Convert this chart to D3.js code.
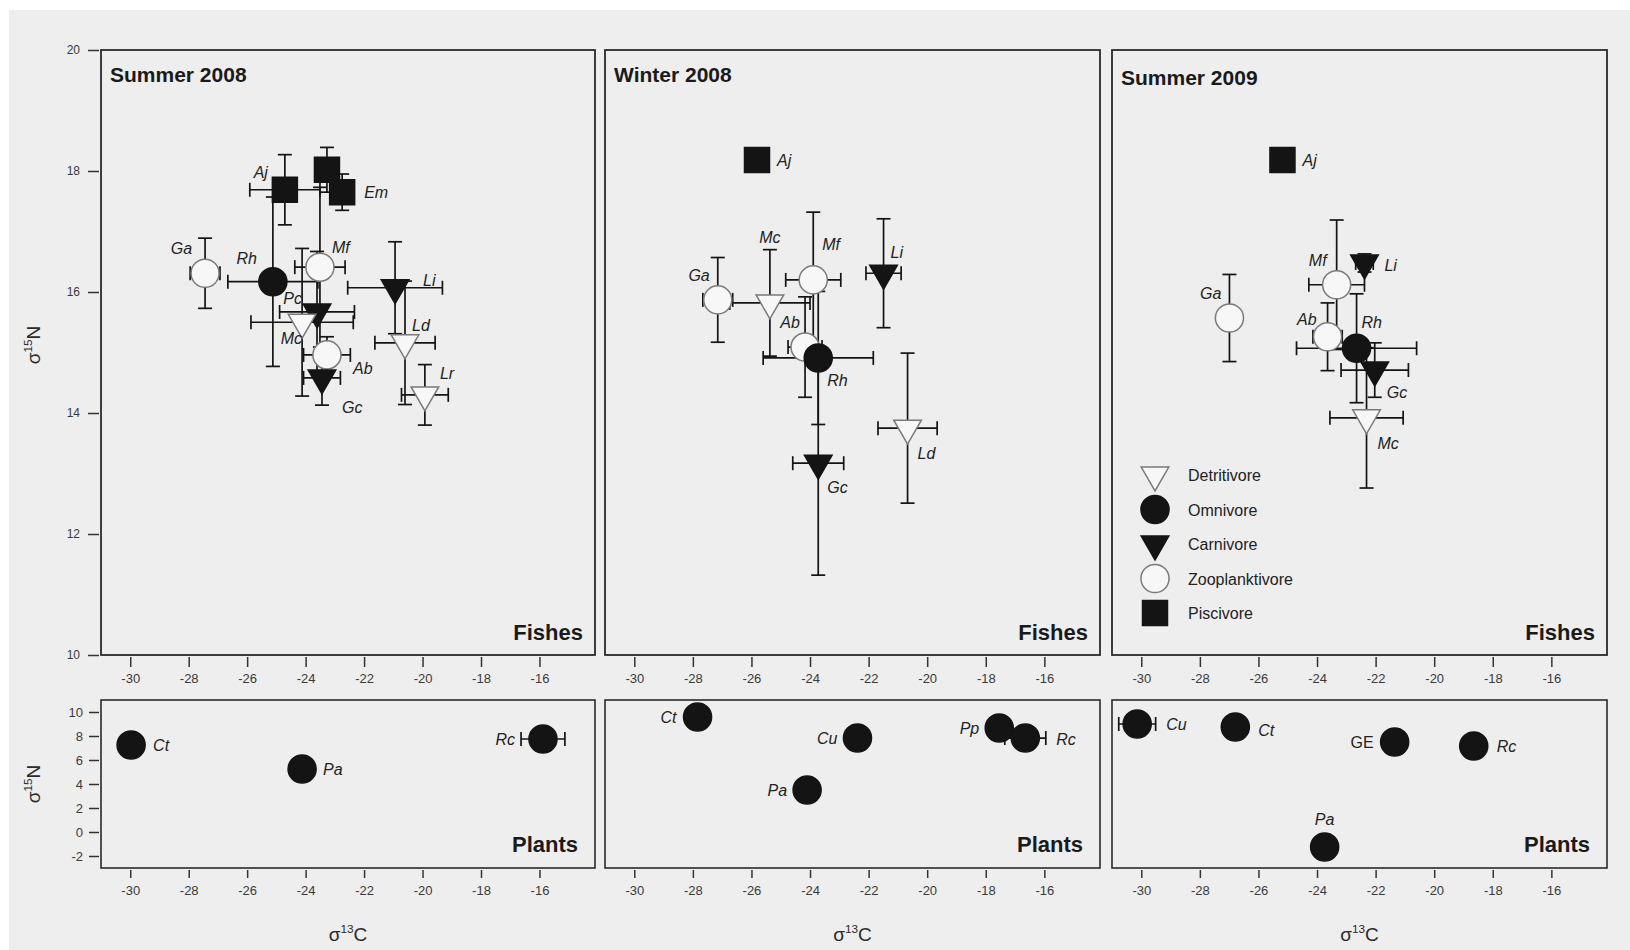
<!DOCTYPE html>
<html>
<head>
<meta charset="utf-8">
<script src="https://cdn.jsdelivr.net/npm/d3@7"></script>
<style>
  html, body { margin: 0; padding: 0; background: #ffffff; }
  svg { display: block; }
  text { font-family: "Liberation Sans", Arial, Helvetica, sans-serif; }
</style>
</head>
<body>
<svg id="chart" width="1630" height="950"></svg>
<script>
// ---- Data -------------------------------------------------------------
const seasons = ["Summer 2008", "Winter 2008", "Summer 2009"];

const guildKeys  = ["D", "O", "C", "Z", "P"];
const guildNames = ["Detritivore", "Omnivore", "Carnivore", "Zooplanktivore", "Piscivore"];

const xTicks      = [-30, -28, -26, -24, -22, -20, -18, -16];
const fishYTicks  = [10, 12, 14, 16, 18, 20];
const plantYTicks = [-2, 0, 2, 4, 6, 8, 10];

// Fishes, summer 2008 (mean ± SD)
const fishS08Species = ["Aj", "", "Em", "Ga", "Rh", "Mf", "Pc", "Mc", "Ab", "Gc", "Li", "Ld", "Lr"];
const fishS08Guild   = ["P", "P", "P", "Z", "O", "Z", "C", "D", "Z", "C", "C", "D", "D"];
const fishS08C       = [-24.71, -23.27, -22.75, -27.44, -25.12, -23.51, -23.61, -24.12, -23.27, -23.44, -20.94, -20.60, -19.92];
const fishS08N       = [17.69, 18.02, 17.65, 16.31, 16.17, 16.41, 15.67, 15.50, 14.96, 14.58, 16.07, 15.16, 14.30];
const fishS08CErr    = [1.20, 0.25, 0.40, 0.51, 1.54, 0.86, 1.28, 1.75, 0.80, 0.63, 1.62, 1.03, 0.80];
const fishS08NErr    = [0.58, 0.37, 0.30, 0.58, 1.40, 1.32, 1.00, 1.22, 0.30, 0.45, 0.76, 1.02, 0.50];

// Fishes, winter 2008
const fishW08Species = ["Aj", "Ga", "Mc", "Mf", "Li", "Ab", "Rh", "Gc", "Ld"];
const fishW08Guild   = ["P", "Z", "D", "Z", "C", "Z", "O", "C", "D"];
const fishW08C       = [-25.81, -27.15, -25.37, -23.89, -21.49, -24.17, -23.72, -23.72, -20.67];
const fishW08N       = [18.18, 15.87, 15.82, 16.20, 16.31, 15.09, 14.91, 13.17, 13.75];
const fishW08CErr    = [0, 0.51, 1.37, 0.94, 0.60, 0.58, 1.88, 0.87, 1.01];
const fishW08NErr    = [0, 0.70, 0.88, 1.12, 0.90, 0.83, 1.10, 1.85, 1.24];

// Fishes, summer 2009
const fishS09Species = ["Aj", "Ga", "Mf", "Li", "Ab", "Rh", "Gc", "Mc"];
const fishS09Guild   = ["P", "Z", "Z", "C", "Z", "O", "C", "D"];
const fishS09C       = [-25.18, -26.99, -23.33, -22.38, -23.64, -22.65, -22.03, -22.31];
const fishS09N       = [18.18, 15.57, 16.12, 16.48, 15.26, 15.07, 14.71, 13.92];
const fishS09CErr    = [0, 0, 0.95, 0.30, 0.50, 2.05, 1.15, 1.25];
const fishS09NErr    = [0, 0.72, 1.07, 0.15, 0.56, 0.90, 0.45, 1.16];

// Plants
const plantS08Species = ["Ct", "Pa", "Rc"];
const plantS08C       = [-29.97, -24.12, -15.88];
const plantS08N       = [7.25, 5.25, 7.75];
const plantS08CErr    = [0, 0, 0.75];

const plantW08Species = ["Ct", "Cu", "Pa", "Pp", "Rc"];
const plantW08C       = [-27.84, -22.38, -24.10, -17.54, -16.65];
const plantW08N       = [9.58, 7.83, 3.50, 8.67, 7.83];
const plantW08CErr    = [0, 0, 0, 0, 0.70];

const plantS09Species = ["Cu", "Ct", "GE", "Rc", "Pa"];
const plantS09C       = [-30.14, -26.79, -21.35, -18.65, -23.74];
const plantS09N       = [9.00, 8.75, 7.50, 7.17, -1.25];
const plantS09CErr    = [0.63, 0, 0, 0, 0];

// ---- Assemble rows ------------------------------------------------------
function fishRows(sp, gu, c, n, ce, ne) {
  return sp.map((s, i) => ({ name: s, guild: gu[i], c: c[i], n: n[i], ce: ce[i], ne: ne[i] }));
}
function plantRows(sp, c, n, ce) {
  return sp.map((s, i) => ({ name: s, guild: "O", c: c[i], n: n[i], ce: ce[i], ne: 0 }));
}

const fishSets = [
  fishRows(fishS08Species, fishS08Guild, fishS08C, fishS08N, fishS08CErr, fishS08NErr),
  fishRows(fishW08Species, fishW08Guild, fishW08C, fishW08N, fishW08CErr, fishW08NErr),
  fishRows(fishS09Species, fishS09Guild, fishS09C, fishS09N, fishS09CErr, fishS09NErr)
];
const plantSets = [
  plantRows(plantS08Species, plantS08C, plantS08N, plantS08CErr),
  plantRows(plantW08Species, plantW08C, plantW08N, plantW08CErr),
  plantRows(plantS09Species, plantS09C, plantS09N, plantS09CErr)
];

// ---- Layout -------------------------------------------------------------
const panelX = [[101, 595], [605, 1100], [1112, 1607]];
const fishY  = [50, 655];
const plantY = [700, 868];
const titleBaseline = [82, 82, 85];

// Label placement [dx, dy, anchor] relative to each marker
const fishLabelSpots = [
  { Aj: [-17, -12, "end"], Em: [22, 6, "start"], Ga: [-13, -19, "end"], Rh: [-16, -18, "end"],
    Mf: [12, -14, "start"], Pc: [-15, -8, "end"], Mc: [0, 22, "end"], Ab: [26, 19, "start"],
    Gc: [20, 35, "start"], Li: [28, -2, "start"], Ld: [7, -12, "start"], Lr: [15, -16, "start"] },
  { Aj: [20, 6, "start"], Ga: [-8, -19, "end"], Mc: [0, -60, "middle"], Mf: [9, -30, "start"],
    Li: [7, -15, "start"], Ab: [-15, -19, "middle"], Rh: [9, 28, "start"], Gc: [9, 30, "start"],
    Ld: [10, 31, "start"] },
  { Aj: [20, 6, "start"], Ga: [-8, -19, "end"], Mf: [-10, -19, "end"], Li: [20, 8, "start"],
    Ab: [-11, -12, "end"], Rh: [5, -20, "start"], Gc: [12, 28, "start"], Mc: [11, 31, "start"] }
];
const plantLabelSpots = [
  { Ct: [22, 6, "start"], Pa: [21, 6, "start"], Rc: [-28, 6, "end"] },
  { Ct: [-21, 6, "end"], Cu: [-20, 6, "end"], Pa: [-20, 6, "end"], Pp: [-20, 6, "end"], Rc: [31, 7, "start"] },
  { Cu: [29, 6, "start"], Ct: [23, 9, "start"], GE: [-21, 6, "end"], Rc: [23, 6, "start"], Pa: [0, -22, "middle"] }
];

const svg = d3.select("#chart");

// paper background
svg.append("rect").attr("x", 0).attr("y", 0).attr("width", 1630).attr("height", 950).attr("fill", "#ffffff");
svg.append("rect").attr("x", 9).attr("y", 10).attr("width", 1621).attr("height", 940).attr("fill", "#eeeeee");

const INK = "#141414";
const FRAME = "#2a2a2a";
const hyphenFormat = d => String(d);   // plain ASCII hyphen for negatives

const symbolOf = {
  D: { type: d3.symbolTriangle, size: 330, fill: "#f7f7f7", stroke: "#7a7a7a", rot: 180 },
  O: { type: d3.symbolCircle,   size: 620, fill: INK,      stroke: INK,       rot: 0 },
  C: { type: d3.symbolTriangle, size: 330, fill: INK,      stroke: INK,       rot: 180 },
  Z: { type: d3.symbolCircle,   size: 620, fill: "#f7f7f7", stroke: "#7a7a7a", rot: 0 },
  P: { type: d3.symbolSquare,   size: 625, fill: INK,      stroke: INK,       rot: 0 }
};

function drawMarker(sel, guild) {
  const s = symbolOf[guild];
  sel.append("path")
    .attr("d", d3.symbol().type(s.type).size(s.size)())
    .attr("transform", s.rot ? `rotate(${s.rot})` : null)
    .attr("fill", s.fill)
    .attr("stroke", s.stroke)
    .attr("stroke-width", 1.5);
}

function drawErrorBars(g, rows, x, y) {
  const cap = 7;
  rows.forEach(d => {
    const cx = x(d.c), cy = y(d.n);
    if (d.ce > 0) {
      const x0 = x(d.c - d.ce), x1 = x(d.c + d.ce);
      g.append("line").attr("x1", x0).attr("x2", x1).attr("y1", cy).attr("y2", cy);
      g.append("line").attr("x1", x0).attr("x2", x0).attr("y1", cy - cap).attr("y2", cy + cap);
      g.append("line").attr("x1", x1).attr("x2", x1).attr("y1", cy - cap).attr("y2", cy + cap);
    }
    if (d.ne > 0) {
      const y0 = y(d.n + d.ne), y1 = y(d.n - d.ne);
      g.append("line").attr("x1", cx).attr("x2", cx).attr("y1", y0).attr("y2", y1);
      g.append("line").attr("x1", cx - cap).attr("x2", cx + cap).attr("y1", y0).attr("y2", y0);
      g.append("line").attr("x1", cx - cap).attr("x2", cx + cap).attr("y1", y1).attr("y2", y1);
    }
  });
  g.attr("stroke", INK).attr("stroke-width", 1.7);
}

function drawLabels(g, rows, x, y, spots, plain) {
  rows.forEach(d => {
    if (!d.name) return;
    const sp = spots[d.name] || [16, 6, "start"];
    g.append("text")
      .attr("x", x(d.c) + sp[0])
      .attr("y", y(d.n) + sp[1])
      .attr("text-anchor", sp[2])
      .attr("font-size", 16)
      .attr("font-style", plain.includes(d.name) ? "normal" : "italic")
      .attr("fill", "#222")
      .text(d.name);
  });
}

function styleAxis(g) {
  g.select(".domain").remove();
  g.selectAll(".tick line").attr("stroke", "#333").attr("stroke-width", 1.5);
  g.selectAll(".tick text").attr("fill", "#3a3a3a").attr("font-size", 13)
    .attr("font-family", "\"Liberation Sans\", Arial, sans-serif");
}

function subLabel(sel, iso, el) {
  sel.append("tspan").text("\u03c3");
  sel.append("tspan").attr("font-size", "62%").attr("dy", "-0.65em").text(iso);
  sel.append("tspan").attr("dy", "0.42em").text(el);
}

panelX.forEach((px, p) => {
  const x = d3.scaleLinear().domain([-31, -14.1]).range(px);
  const yF = d3.scaleLinear().domain([10, 20]).range([fishY[1], fishY[0]]);
  const yP = d3.scaleLinear().domain([-3, 11]).range([plantY[1], plantY[0]]);

  // ---- fishes panel ----
  const gf = svg.append("g");
  gf.append("rect")
    .attr("x", px[0]).attr("y", fishY[0])
    .attr("width", px[1] - px[0]).attr("height", fishY[1] - fishY[0])
    .attr("fill", "none").attr("stroke", FRAME).attr("stroke-width", 1.8);

  const axF = gf.append("g").attr("transform", `translate(0,${fishY[1] + 2})`)
    .call(d3.axisBottom(x).tickValues(xTicks).tickSize(10).tickPadding(7).tickFormat(hyphenFormat));
  styleAxis(axF);

  if (p === 0) {
    const ayF = gf.append("g").attr("transform", `translate(${px[0] - 2},0)`)
      .call(d3.axisLeft(yF).tickValues(fishYTicks).tickSize(11).tickPadding(8).tickFormat(hyphenFormat));
    styleAxis(ayF);
    ayF.selectAll(".tick text").attr("font-size", 12);
  }

  const rows = fishSets[p];
  drawErrorBars(gf.append("g"), rows, x, yF);
  const mk = gf.append("g");
  rows.forEach(d => {
    drawMarker(mk.append("g").attr("transform", `translate(${x(d.c)},${yF(d.n)})`), d.guild);
  });
  drawLabels(gf.append("g"), rows, x, yF, fishLabelSpots[p], []);

  gf.append("text").attr("x", px[0] + 9).attr("y", titleBaseline[p])
    .attr("font-size", 21).attr("font-weight", "bold").attr("fill", "#1a1a1a")
    .text(seasons[p]);
  gf.append("text").attr("x", px[1] - 12).attr("y", fishY[1] - 15)
    .attr("text-anchor", "end").attr("font-size", 22).attr("font-weight", "bold").attr("fill", "#1a1a1a")
    .text("Fishes");

  // ---- plants panel ----
  const gp = svg.append("g");
  gp.append("rect")
    .attr("x", px[0]).attr("y", plantY[0])
    .attr("width", px[1] - px[0]).attr("height", plantY[1] - plantY[0])
    .attr("fill", "none").attr("stroke", FRAME).attr("stroke-width", 1.6);

  const axP = gp.append("g").attr("transform", `translate(0,${plantY[1] + 2})`)
    .call(d3.axisBottom(x).tickValues(xTicks).tickSize(8).tickPadding(8).tickFormat(hyphenFormat));
  styleAxis(axP);

  if (p === 0) {
    const ayP = gp.append("g").attr("transform", `translate(${px[0] - 2},0)`)
      .call(d3.axisLeft(yP).tickValues(plantYTicks).tickSize(10).tickPadding(6).tickFormat(hyphenFormat));
    styleAxis(ayP);
  }

  const prow = plantSets[p];
  drawErrorBars(gp.append("g"), prow, x, yP);
  const pm = gp.append("g");
  prow.forEach(d => {
    drawMarker(pm.append("g").attr("transform", `translate(${x(d.c)},${yP(d.n)})`), "O");
  });
  drawLabels(gp.append("g"), prow, x, yP, plantLabelSpots[p], ["GE"]);

  gp.append("text").attr("x", px[1] - 17).attr("y", plantY[1] - 16)
    .attr("text-anchor", "end").attr("font-size", 22).attr("font-weight", "bold").attr("fill", "#1a1a1a")
    .text("Plants");

  // x axis title
  const xt = svg.append("text").attr("x", (px[0] + px[1]) / 2).attr("y", 941)
    .attr("text-anchor", "middle").attr("font-size", 19).attr("fill", "#2a2a2a");
  subLabel(xt, "13", "C");

  // legend in the last fishes panel
  if (p === 2) {
    const lg = svg.append("g").attr("transform", `translate(${px[0] + 43},475)`);
    guildKeys.forEach((k, i) => {
      const row = lg.append("g").attr("transform", `translate(0,${i * 34.5})`);
      drawMarker(row.append("g"), k);
      row.append("text").attr("x", 33).attr("y", 6)
        .attr("font-size", 16).attr("fill", "#222").text(guildNames[i]);
    });
  }
});

// y axis titles
const yt1 = svg.append("text").attr("transform", "translate(40,345) rotate(-90)")
  .attr("text-anchor", "middle").attr("font-size", 19).attr("fill", "#2a2a2a");
subLabel(yt1, "15", "N");
const yt2 = svg.append("text").attr("transform", "translate(40,784) rotate(-90)")
  .attr("text-anchor", "middle").attr("font-size", 19).attr("fill", "#2a2a2a");
subLabel(yt2, "15", "N");
</script>
</body>
</html>
